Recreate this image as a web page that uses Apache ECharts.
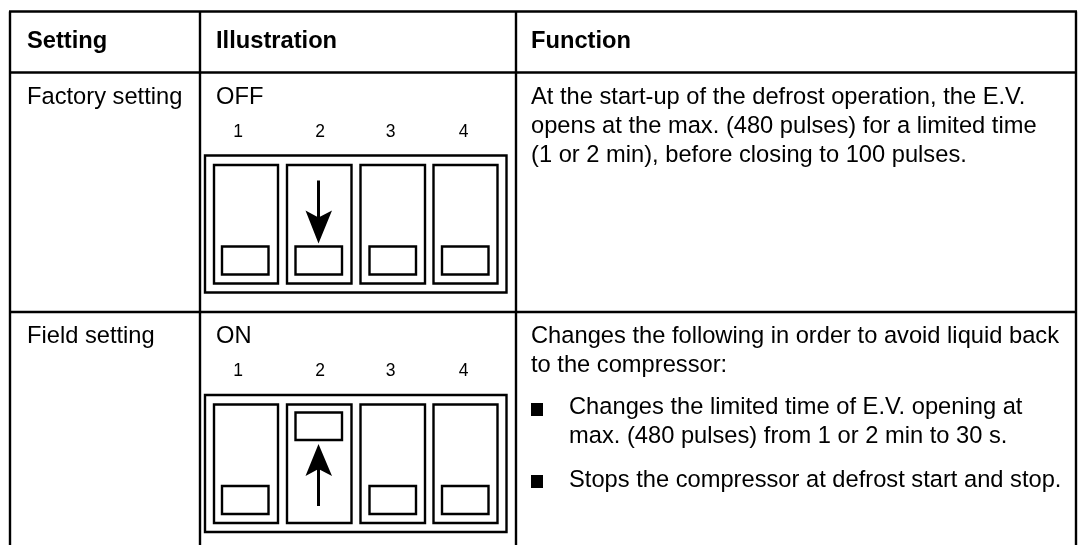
<!DOCTYPE html>
<html><head><meta charset="utf-8">
<style>html,body{margin:0;padding:0;background:#fff}#c{width:1084px;height:545px}</style>
<script src="https://cdn.jsdelivr.net/npm/echarts@6/dist/echarts.min.js"></script>
</head><body><div id="c"></div>
<script>
const headers = ['Setting', 'Illustration', 'Function'];
const settings = ['Factory setting', 'Field setting'];
const states = ['OFF', 'ON'];
const switchNumbers = ['1', '2', '3', '4'];
const factoryUp = [false, false, false, false];
const fieldUp = [false, true, false, false];
const factoryFunction = [
  'At the start-up of the defrost operation, the E.V.',
  'opens at the max. (480 pulses) for a limited time',
  '(1 or 2 min), before closing to 100 pulses.'
];
const fieldIntro = ['Changes the following in order to avoid liquid back', 'to the compressor:'];
const fieldBullet1 = ['Changes the limited time of E.V. opening at', 'max. (480 pulses) from 1 or 2 min to 30 s.'];
const fieldBullet2 = ['Stops the compressor at defrost start and stop.'];

const FONT = '"Liberation Sans", Arial, Helvetica, sans-serif';
const els = [];
function line(x1, y1, x2, y2, w) {
  els.push({type:'line', shape:{x1,y1,x2,y2}, style:{stroke:'#000', lineWidth:w||2.4}});
}
function rect(x1, y1, x2, y2, w) {
  els.push({type:'rect', shape:{x:x1,y:y1,width:x2-x1,height:y2-y1}, style:{fill:'none', stroke:'#000', lineWidth:w||2.4}});
}
function text(t, x, y, size, bold, align) {
  els.push({type:'text', x, y, style:{text:t, x:0, y:0, fill:'#000', align:align||'left', verticalAlign:'middle',
    font:(bold?'bold ':'')+size+'px '+FONT}});
}
function poly(pts) {
  els.push({type:'polygon', shape:{points:pts}, style:{fill:'#000', stroke:'none'}});
}
// table rules
const L=10, C1=200, C2=516, R=1076, T=11.5, H=72.5, M=312;
line(L-1,T,R+1,T); line(L-1,H,R+1,H); line(L-1,M,R+1,M);
[L,C1,C2,R].forEach(x=>line(x,T,x,545));
// headers
const FS=23.7, TX=531;
text(headers[0],27,41,FS,true); text(headers[1],216,41,FS,true); text(headers[2],TX,41,FS,true);

const swX=[[214,278],[287,351.5],[360.5,425],[433.5,497.5]];
const knobX=[[222,268.5],[295.5,342],[369.5,416],[442,488.5]];
const numX=[238,320,390.5,463.5];
function block(top, up, state, name) {
  text(name,27,top+24.5,FS);
  text(state,216,top+24.5,FS);
  switchNumbers.forEach((n,i)=>text(n,numX[i],top+59.5,17.5,false,'center'));
  const o=top+83;
  rect(205,o,506.5,o+137);
  swX.forEach((s,i)=>{
    rect(s[0],o+9.5,s[1],o+128);
    if(up[i]) rect(knobX[i][0],o+17.5,knobX[i][1],o+45);
    else rect(knobX[i][0],o+91,knobX[i][1],o+119);
  });
  const cx=318.5;
  if(up[1]){
    line(cx,o+111,cx,o+70,3);
    poly([[cx,o+49],[332,o+81],[cx,o+74],[305.5,o+81]]);
  } else {
    line(cx,o+25,cx,o+65,3);
    poly([[cx,o+88],[332,o+55],[cx,o+62],[305.5,o+55]]);
  }
}
block(72.5,factoryUp,states[0],settings[0]);
block(312,fieldUp,states[1],settings[1]);

factoryFunction.forEach((t,i)=>text(t,TX,97+i*29,FS));
fieldIntro.forEach((t,i)=>text(t,TX,336+i*29,FS));
fieldBullet1.forEach((t,i)=>text(t,569,407+i*29,FS));
fieldBullet2.forEach((t,i)=>text(t,569,480+i*29,FS));
els.push({type:'rect',shape:{x:531,y:403,width:12,height:13},style:{fill:'#000'}});
els.push({type:'rect',shape:{x:531,y:475,width:12,height:13},style:{fill:'#000'}});

const chart = echarts.init(document.getElementById('c'), null, {renderer:'canvas'});
chart.setOption({animation:false, backgroundColor:'#fff', graphic:{elements:els}});
</script></body></html>
